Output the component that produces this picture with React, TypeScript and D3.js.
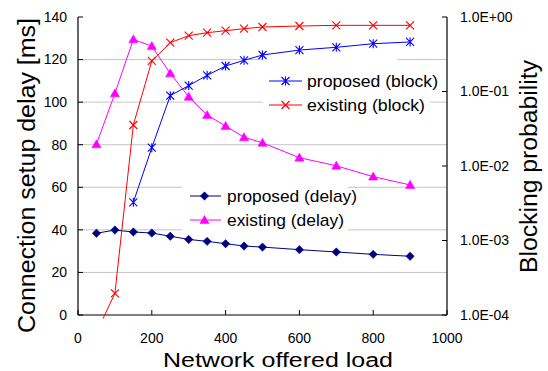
import React from "react";
import * as d3 from "d3";

const loads = [50, 100, 150, 200, 250, 300, 350, 400, 450, 500, 600, 700, 800, 900];
const proposedDelay = [38.4, 39.9, 39.0, 38.5, 37.0, 35.5, 34.6, 33.5, 32.4, 31.9, 30.7, 29.6, 28.5, 27.6];
const existingDelay = [80.2, 104.1, 129.5, 126.3, 113.5, 102.5, 93.9, 88.8, 83.5, 80.9, 73.9, 70.1, 65.0, 61.1];
const proposedBlockLoads = [150, 200, 250, 300, 350, 400, 450, 500, 600, 700, 800, 900];
const proposedBlock = [3.26e-3, 1.76e-2, 8.8e-2, 0.12, 0.165, 0.22, 0.262, 0.309, 0.36, 0.392, 0.438, 0.462];
const existingBlock = [5.8e-5, 1.95e-4, 3.55e-2, 0.257, 0.452, 0.561, 0.616, 0.655, 0.697, 0.734, 0.757, 0.773, 0.773, 0.773];

const xTicks = [0, 200, 400, 600, 800, 1000];
const yLeftTicks = [0, 20, 40, 60, 80, 100, 120, 140];
const yRightTicks = [1e-4, 1e-3, 1e-2, 1e-1, 1];
const yRightLabels = ["1.0E-04", "1.0E-03", "1.0E-02", "1.0E-01", "1.0E+00"];

const FONT = "'Liberation Sans', Arial, Helvetica, sans-serif";

function Marker({ type, x, y, color }: { type: string; x: number; y: number; color: string }) {
  if (type === "diamond") {
    const r = 4.2;
    return <path d={`M${x},${y - r}L${x + r},${y}L${x},${y + r}L${x - r},${y}Z`} fill={color} stroke={color} strokeWidth={0.5} />;
  }
  if (type === "triangle") {
    const r = 4.6;
    return <path d={`M${x},${y - r}L${x + r},${y + r * 0.75}L${x - r},${y + r * 0.75}Z`} fill={color} stroke={color} strokeWidth={0.5} />;
  }
  if (type === "asterisk") {
    const r = 4;
    return (
      <path
        d={`M${x - r},${y - r}L${x + r},${y + r}M${x - r},${y + r}L${x + r},${y - r}M${x},${y - r - 0.5}L${x},${y + r + 0.5}`}
        stroke={color}
        strokeWidth={1.1}
        fill="none"
      />
    );
  }
  const r = 4;
  return <path d={`M${x - r},${y - r}L${x + r},${y + r}M${x - r},${y + r}L${x + r},${y - r}`} stroke={color} strokeWidth={1.1} fill="none" />;
}

export default function App() {
  const W = 548;
  const H = 371;
  const x = d3.scaleLinear().domain([0, 1000]).range([78, 447]);
  const yL = d3.scaleLinear().domain([0, 140]).range([315, 17]);
  const yR = d3.scaleLog().domain([1e-4, 1]).range([315, 17]);

  const lineL = d3.line<[number, number]>().x((d) => x(d[0])).y((d) => yL(d[1]));
  const lineR = d3.line<[number, number]>().x((d) => x(d[0])).y((d) => yR(d[1]));

  const pd: [number, number][] = loads.map((l, i) => [l, proposedDelay[i]]);
  const ed: [number, number][] = loads.map((l, i) => [l, existingDelay[i]]);
  const pb: [number, number][] = proposedBlockLoads.map((l, i) => [l, proposedBlock[i]]);
  const eb: [number, number][] = loads.map((l, i) => [l, existingBlock[i]]);

  const navy = "#000080";
  const magenta = "#FF00FF";
  const blue = "#0000FF";
  const red = "#FF0000";
  const grid = "#c4c4c4";

  return (
    <svg width={W} height={H} style={{ position: "absolute", left: 0, top: 0, background: "#fff" }} fontFamily={FONT}>
      <defs>
        <clipPath id="plotClip">
          <rect x={60} y={0} width={400} height={318.5} />
        </clipPath>
      </defs>
      <rect x={0} y={0} width={W} height={H} fill="#fff" />
      {/* gridlines */}
      {yLeftTicks.filter((t) => t > 0 && t < 140).map((t) => (
        <line key={t} x1={78} x2={447} y1={yL(t)} y2={yL(t)} stroke={grid} strokeWidth={1} />
      ))}
      {/* legend backgrounds occluding gridlines */}
      <rect x={263} y={57} width={135} height={6} fill="#fff" />
      <rect x={263} y={62} width={167} height={56} fill="#fff" />
      <rect x={182} y={185} width={166} height={47} fill="#fff" />

      {/* axes */}
      <line x1={78} x2={78} y1={17} y2={315} stroke="#000" strokeWidth={1.2} />
      <line x1={447} x2={447} y1={17} y2={315} stroke="#000" strokeWidth={1.2} />
      <line x1={78} x2={447} y1={315} y2={315} stroke="#000" strokeWidth={1.2} />
      {yLeftTicks.map((t) => (
        <g key={"yl" + t}>
          <line x1={78} x2={83} y1={yL(t)} y2={yL(t)} stroke="#000" strokeWidth={1} />
          <text x={67} y={yL(t)} dy="0.35em" textAnchor="end" fontSize={14}>
            {t}
          </text>
        </g>
      ))}
      {yRightTicks.map((t, i) => (
        <g key={"yr" + t}>
          <line x1={442} x2={447} y1={yR(t)} y2={yR(t)} stroke="#000" strokeWidth={1} />
          <text x={460} y={yR(t)} dy="0.35em" textAnchor="start" fontSize={14}>
            {yRightLabels[i]}
          </text>
        </g>
      ))}
      {xTicks.map((t) => (
        <g key={"x" + t}>
          <line x1={x(t)} x2={x(t)} y1={315} y2={310} stroke="#000" strokeWidth={1} />
          <text x={x(t)} y={343} textAnchor="middle" fontSize={14}>
            {t}
          </text>
        </g>
      ))}

      {/* series */}
      <g clipPath="url(#plotClip)">
        <path d={lineL(pd) || ""} fill="none" stroke={navy} strokeWidth={1} />
        <path d={lineL(ed) || ""} fill="none" stroke={magenta} strokeWidth={1} />
        <path d={lineR(pb) || ""} fill="none" stroke={blue} strokeWidth={1} />
        <path d={lineR(eb) || ""} fill="none" stroke={red} strokeWidth={1} />
      </g>
      {pd.map((d, i) => (
        <Marker key={"pd" + i} type="diamond" x={x(d[0])} y={yL(d[1])} color={navy} />
      ))}
      {ed.map((d, i) => (
        <Marker key={"ed" + i} type="triangle" x={x(d[0])} y={yL(d[1])} color={magenta} />
      ))}
      {pb.map((d, i) => (
        <Marker key={"pb" + i} type="asterisk" x={x(d[0])} y={yR(d[1])} color={blue} />
      ))}
      {eb.filter((d) => d[1] >= 1e-4).map((d, i) => (
        <Marker key={"eb" + i} type="x" x={x(d[0])} y={yR(d[1])} color={red} />
      ))}

      {/* legend 1 */}
      <line x1={269} x2={302} y1={81} y2={81} stroke={blue} strokeWidth={1} />
      <Marker type="asterisk" x={285.5} y={81} color={blue} />
      <text x={307} y={81} dy="0.35em" fontSize={17} textLength={131} lengthAdjust="spacingAndGlyphs">
        proposed (block)
      </text>
      <line x1={269} x2={302} y1={105} y2={105} stroke={red} strokeWidth={1} />
      <Marker type="x" x={285.5} y={105} color={red} />
      <text x={307} y={105} dy="0.35em" fontSize={17} textLength={118} lengthAdjust="spacingAndGlyphs">
        existing (block)
      </text>

      {/* legend 2 */}
      <line x1={190} x2={221} y1={196} y2={196} stroke={navy} strokeWidth={1} />
      <Marker type="diamond" x={204.5} y={196} color={navy} />
      <text x={227} y={196} dy="0.35em" fontSize={17} textLength={130} lengthAdjust="spacingAndGlyphs">
        proposed (delay)
      </text>
      <line x1={190} x2={221} y1={220} y2={220} stroke={magenta} strokeWidth={1} />
      <Marker type="triangle" x={204.5} y={220} color={magenta} />
      <text x={227} y={220} dy="0.35em" fontSize={17} textLength={117} lengthAdjust="spacingAndGlyphs">
        existing (delay)
      </text>

      {/* axis titles */}
      <text x={278} y={367} textAnchor="middle" fontSize={20} textLength={230} lengthAdjust="spacingAndGlyphs">
        Network offered load
      </text>
      <text
        transform={`translate(35,175.5) rotate(-90)`}
        textAnchor="middle"
        fontSize={23}
        textLength={315}
        lengthAdjust="spacingAndGlyphs"
      >
        Connection setup delay [ms]
      </text>
      <text
        transform={`translate(537,166.5) rotate(-90)`}
        textAnchor="middle"
        fontSize={23}
        textLength={213}
        lengthAdjust="spacingAndGlyphs"
      >
        Blocking probability
      </text>
    </svg>
  );
}
